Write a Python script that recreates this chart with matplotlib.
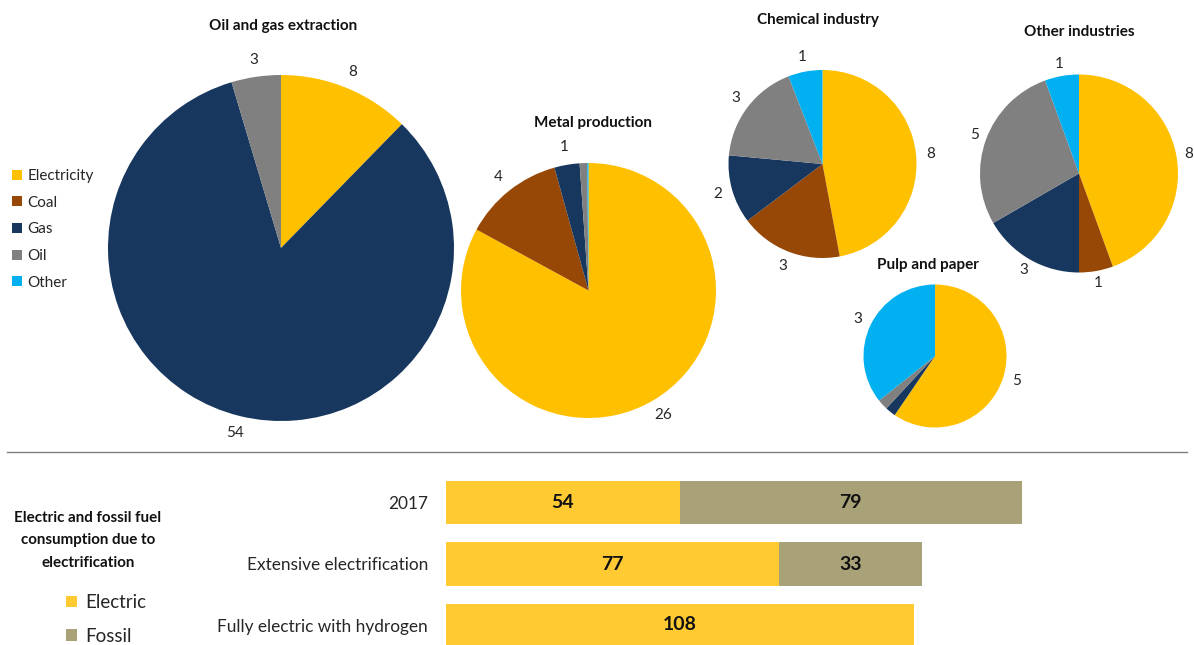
import matplotlib
matplotlib.use("Agg")
import matplotlib.pyplot as plt
from matplotlib.transforms import Bbox
import numpy as np

W, H = 1194, 645
plt.rcParams['font.family'] = ['Lato', 'DejaVu Sans']

# Energy use by fuel, per industry
fuels = ['Electricity', 'Coal', 'Gas', 'Oil', 'Other']
fuel_colors = ['#FFC000', '#974806', '#17375E', '#808080', '#00B0F0']

oil_gas = [8, 0, 54, 3, 0]
metal = [26, 4, 1, 0.3, 0.05]
chemical = [8, 3, 2, 3, 1]
other_ind = [8, 1, 3, 5, 1]
pulp = [5, 0, 0.2, 0.2, 3]

# Electric vs fossil consumption per scenario
scenarios = ['2017', 'Extensive electrification', 'Fully electric with hydrogen']
electric = [54, 77, 108]
fossil = [79, 33, 0]
bar_colors = ['#FFCA32', '#A9A178']

fig = plt.figure(figsize=(W / 100, H / 100), dpi=100)
ax = fig.add_axes([0, 0, 1, 1])


def top(y):
    """Convert a distance from the top edge to a y coordinate."""
    return H - y


# (title, values, centre, radius, title position, label distance, title clip)
pies = [
    ('Oil and gas extraction', oil_gas, (281, 248), 173, (283, 26), 1.10, None),
    ('Metal production', metal, (588.5, 290.5), 127.5, (593, 123), 1.14, 129),
    ('Chemical industry', chemical, (822.5, 164), 94, (818, 20), 1.16, 27),
    ('Other industries', other_ind, (1079, 173.5), 99, (1079, 32), 1.125, None),
    ('Pulp and paper', pulp, (935, 356), 71.5, (928, 265), 1.20, None),
]

legend_wedges = None
for title, vals, (cx, cy), r, (tx, ty), ld, clip in pies:
    wedges, _ = ax.pie(vals, colors=fuel_colors, startangle=90, counterclock=False,
                       center=(cx, top(cy)), radius=r,
                       wedgeprops=dict(linewidth=0))
    if legend_wedges is None:
        legend_wedges = wedges
    for w, v in zip(wedges, vals):
        if v < 0.5:
            continue
        ang = np.deg2rad((w.theta1 + w.theta2) / 2)
        ax.text(cx + ld * r * np.cos(ang), top(cy) + ld * r * np.sin(ang),
                f'{v:.0f}', ha='center', va='center', fontsize=11, color='#262626')
    t = ax.text(tx, top(ty), title, ha='center', va='center', fontsize=11,
                fontweight='bold', color='#111111')
    if clip is not None:
        t.set_clip_box(Bbox([[0, top(clip)], [W, H]]))
        t.set_clip_on(True)

# Separator between pies and bars
ax.plot([7, 1187], [top(452), top(452)], color='#7F7F7F', lw=1)

# Bar chart title on the left
for line, ly in zip(['Electric and fossil fuel', 'consumption due to', 'electrification'],
                    [518, 540, 563]):
    ax.text(88, top(ly), line, ha='center', va='center', fontsize=10.9,
            fontweight='bold', color='#111111')

ax.set_xlim(0, W)
ax.set_ylim(0, H)
ax.set_aspect('equal')
ax.axis('off')

# Stacked horizontal bars
x0, px_per_unit = 446, 4.33
xmax = (W - x0) / px_per_unit
row0, row_step = 502.5, 61.5
ylo = (H - row0) / row_step
yhi = -(row0 - 440) / row_step
axb = fig.add_axes([x0 / W, 0, 1 - x0 / W, 205 / H])
ypos = np.arange(len(scenarios))
c1 = axb.barh(ypos, electric, height=0.7, color=bar_colors[0], linewidth=0)
c2 = axb.barh(ypos, fossil, left=electric, height=0.7, color=bar_colors[1], linewidth=0)
axb.bar_label(c1, labels=[f'{v}' if v else '' for v in electric], label_type='center',
              fontsize=14, fontweight='bold', color='#111111')
axb.bar_label(c2, labels=[f'{v}' if v else '' for v in fossil], label_type='center',
              fontsize=14, fontweight='bold', color='#111111')
axb.set_xlim(0, xmax)
axb.set_ylim(ylo, yhi)
axb.set_yticks(ypos, scenarios, fontsize=12.4, color='#262626')
axb.tick_params(axis='y', length=0, pad=13)
axb.set_xticks([])
for s in axb.spines.values():
    s.set_visible(False)
axb.patch.set_alpha(0)

# Legends
bar_legend = ax.legend([c1, c2], ['Electric', 'Fossil'], loc='upper left',
                       bbox_to_anchor=(66, top(594)), bbox_transform=ax.transData,
                       frameon=False, fontsize=13.5, handlelength=0.58, handleheight=0.58,
                       handletextpad=0.45, labelspacing=0.9, borderpad=0, borderaxespad=0,
                       labelcolor='#262626')
ax.add_artist(bar_legend)
ax.legend(legend_wedges, fuels, loc='upper left',
          bbox_to_anchor=(12, top(169)), bbox_transform=ax.transData,
          frameon=False, fontsize=11, handlelength=0.65, handleheight=0.65,
          handletextpad=0.35, labelspacing=0.83, borderpad=0, borderaxespad=0,
          labelcolor='#262626')

fig.savefig('out.png', dpi=100)
